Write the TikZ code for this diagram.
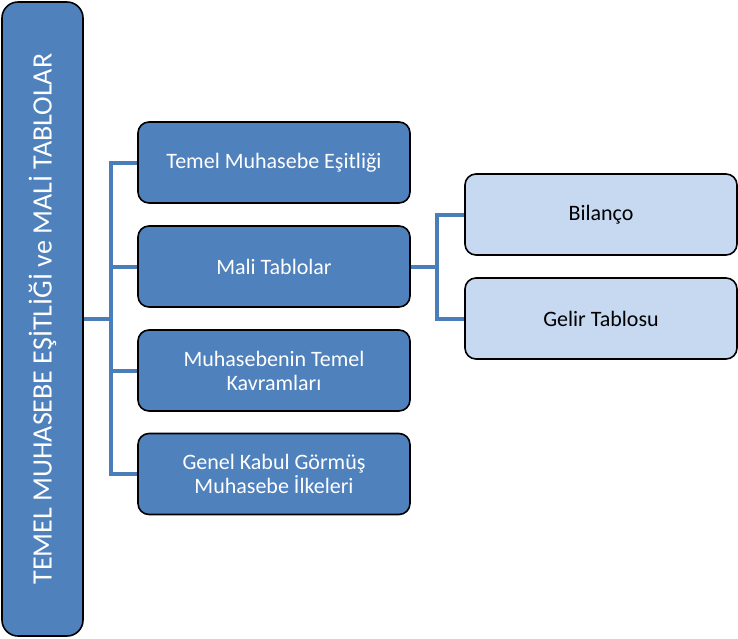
\documentclass[tikz,border=0pt]{standalone}
\usepackage{fontspec}
\setmainfont{Carlito}
\definecolor{koyu}{HTML}{4F81BD}
\definecolor{cizgi}{HTML}{4A7EBB}
\definecolor{acik}{HTML}{C6D9F1}
\tikzset{
  kutu/.style={draw=black, line width=1.6pt, rounded corners=11pt, minimum width=272pt, minimum height=81pt, align=center, font=\fontsize{22}{24}\selectfont, inner sep=0pt},
  ana/.style={kutu, fill=koyu, text=white},
  alt/.style={kutu, fill=acik, text=black},
  hat/.style={draw=cizgi, line width=4pt}
}
\begin{document}
\begin{tikzpicture}[x=1pt,y=-1pt]
\useasboundingbox (0,0) rectangle (738,638);
\node[draw=black, line width=1.6pt, rounded corners=16pt, fill=koyu, text=white, rotate=90, minimum width=634pt, minimum height=81pt, inner sep=0pt, font=\fontsize{28}{32}\selectfont] (kok) at (42.5,319){TEMEL MUHASEBE EŞİTLİĞİ ve MALİ TABLOLAR};
\node[ana] (b1) at (274,162.5){Temel Muhasebe Eşitliği};
\node[ana] (b2) at (274,266.5){Mali Tablolar};
\node[ana] (b3) at (274,370.5){Muhasebenin Temel\\Kavramları};
\node[ana] (b4) at (274,474){Genel Kabul Görmüş\\Muhasebe İlkeleri};
\node[alt] (c1) at (601,214.5){Bilanço};
\node[alt] (c2) at (601,318.5){Gelir Tablosu};
\coordinate (j1) at (111,319);
\coordinate (j2) at (437,266.5);
\begin{scope}[on background layer/.try]
\draw[hat](kok.south) -- (j1);
\draw[hat](j1) |- (b1.west);
\draw[hat](j1) |- (b2.west);
\draw[hat](j1) |- (b3.west);
\draw[hat](j1) |- (b4.west);
\draw[hat](b2.east) -- (j2);
\draw[hat](j2) |- (c1.west);
\draw[hat](j2) |- (c2.west);
\end{scope}
\end{tikzpicture}
\end{document}
